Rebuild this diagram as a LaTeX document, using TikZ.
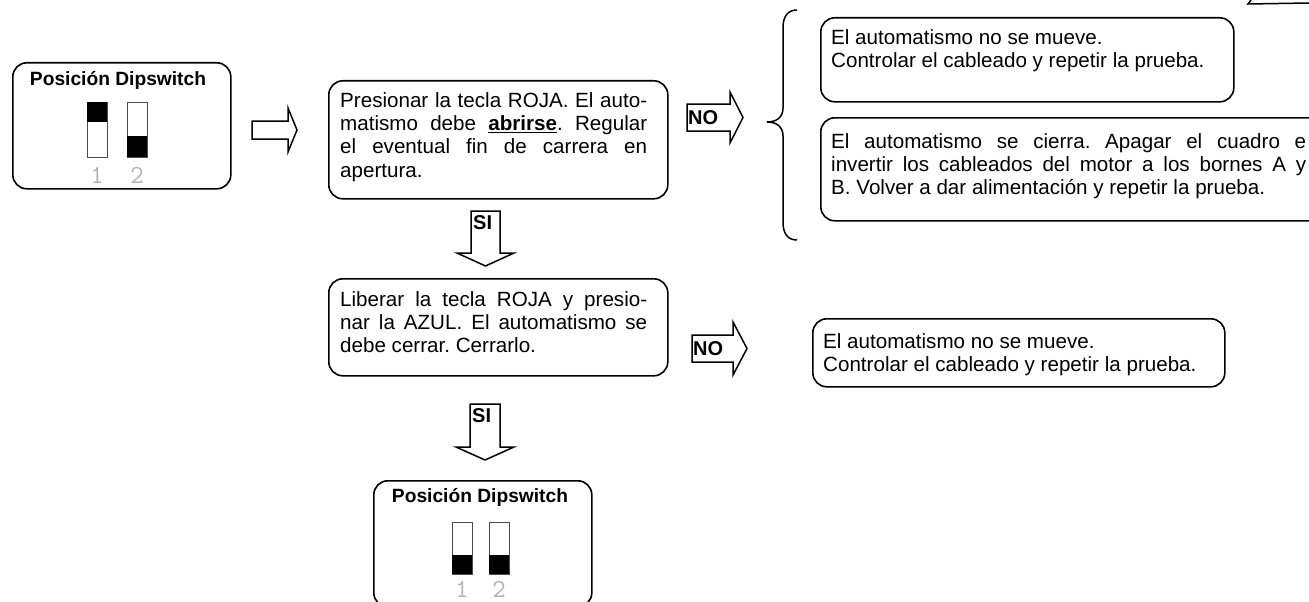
\documentclass[tikz,border=0pt]{standalone}
\usepackage{fontspec}
\setmainfont{Liberation Sans}
\frenchspacing
\newcommand{\renglon}[2][307pt]{\makebox[#1][s]{#2}}
\begin{document}
\begin{tikzpicture}[x=1pt,y=-1pt,
	caja/.style={draw,line width=1.6pt,rounded corners=14pt,anchor=north west,inner sep=0pt},
	texto/.style={anchor=north west,inner sep=0pt,align=left,font=\fontsize{20.6}{23.3}\selectfont},
	titulo/.style={font=\fontsize{19.2}{22}\selectfont\bfseries,inner sep=0pt},
	numero/.style={font=\fontsize{26}{26}\selectfont\ttfamily,text=gray!60,inner sep=0pt},
	interruptor/.style={draw=black!70,line width=0.8pt},
	flecha/.style={draw,line width=1.5pt,line join=miter},
	rotulo/.style={font=\fontsize{20}{20}\selectfont\bfseries,inner sep=0pt}]
		\useasboundingbox (0,0) rectangle (1309,602);
		% dipswitch inicial
		\node[caja,minimum width=218pt,minimum height=126pt](dip1) at (12,62) {};
		\node[titulo](tit1) at (118,80) {Posición Dipswitch};
		\draw[interruptor] (87,102) rectangle (107,157);
		\fill (87,102) rectangle (107,122);
		\draw[interruptor] (127,102) rectangle (147,157);
		\fill (127,136) rectangle (147,157);
		\node[numero](n1) at (97,175) {1};
		\node[numero](n2) at (137,175) {2};
		\draw[flecha] (252,121) -- ++(36,0) -- ++(0,-13) -- ++(9,22) -- ++(-9,22) -- ++(0,-13) -- ++(-36,0) -- cycle;
		% prueba tecla roja
		\node[caja,minimum width=339pt,minimum height=118pt](caja2) at (328,80) {};
		\node[texto](t2) at (340,92) {\renglon{Presionar la tecla ROJA. El auto-}\\
			\renglon{matismo debe \textbf{\underline{abrirse}}. Regular}\\
			\renglon{el eventual fin de carrera en}\\
			apertura.};
		\draw[flecha] (687,104) -- ++(43,0) -- ++(0,-12) -- ++(13,25.5) -- ++(-13,25.5) -- ++(0,-12) -- ++(-43,0) -- cycle;
		\node[rotulo,anchor=west](no1) at (688,118) {NO};
		\draw[line width=1.5pt] (797,10) .. controls (788,10) and (783,16) .. (783,28) -- (783,108) .. controls (783,117) and (777,122) .. (767,122) .. controls (777,122) and (783,127) .. (783,136) -- (783,222) .. controls (783,234) and (788,240) .. (797,240);
		\node[caja,minimum width=413pt,minimum height=84pt](caja3) at (820,17) {};
		\node[texto](t3) at (831,29) {El automatismo no se mueve.\\Controlar el cableado y repetir la prueba.};
		\node[caja,minimum width=510pt,minimum height=103pt](caja4) at (820,117) {};
		\node[texto](t4) at (831,133) {\renglon[475pt]{El automatismo se cierra. Apagar el cuadro e}\\
			\renglon[475pt]{invertir los cableados del motor a los bornes A y}\\
			B. Volver a dar alimentación y repetir la prueba.};
		\draw[line width=1.5pt] (1251,0) -- (1248,4) -- (1309,3);
		\draw[flecha] (471,211) -- ++(29,0) -- ++(0,42) -- ++(14,0) -- ++(-28.5,13) -- ++(-28.5,-13) -- ++(14,0) -- cycle;
		\node[rotulo,anchor=north west](si1) at (473,215) {SI};
		% prueba tecla azul
		\node[caja,minimum width=339pt,minimum height=97pt](caja5) at (328,278) {};
		\node[texto](t5) at (340,291) {\renglon{Liberar la tecla ROJA y presio-}\\
			\renglon{nar la AZUL. El automatismo se}\\
			debe cerrar. Cerrarlo.};
		\draw[flecha] (692,335) -- ++(41,0) -- ++(0,-13) -- ++(14,26.5) -- ++(-14,26.5) -- ++(0,-13) -- ++(-41,0) -- cycle;
		\node[rotulo,anchor=west](no2) at (693,349) {NO};
		\node[caja,minimum width=412pt,minimum height=68pt](caja6) at (812,318) {};
		\node[texto](t6) at (823,333) {El automatismo no se mueve.\\Controlar el cableado y repetir la prueba.};
		\draw[flecha] (470,404) -- ++(30,0) -- ++(0,43) -- ++(14,0) -- ++(-29,13) -- ++(-29,-13) -- ++(14,0) -- cycle;
		\node[rotulo,anchor=north west](si2) at (472,408) {SI};
		% dipswitch final
		\node[caja,minimum width=218pt,minimum height=126pt](dip2) at (373,480) {};
		\node[titulo](tit2) at (480,497) {Posición Dipswitch};
		\draw[interruptor] (452,522) rectangle (472,574);
		\fill (452,555) rectangle (472,574);
		\draw[interruptor] (489,522) rectangle (509,574);
		\fill (489,555) rectangle (509,574);
		\node[numero](n3) at (462,589) {1};
		\node[numero](n4) at (499,589) {2};
\end{tikzpicture}
\end{document}
